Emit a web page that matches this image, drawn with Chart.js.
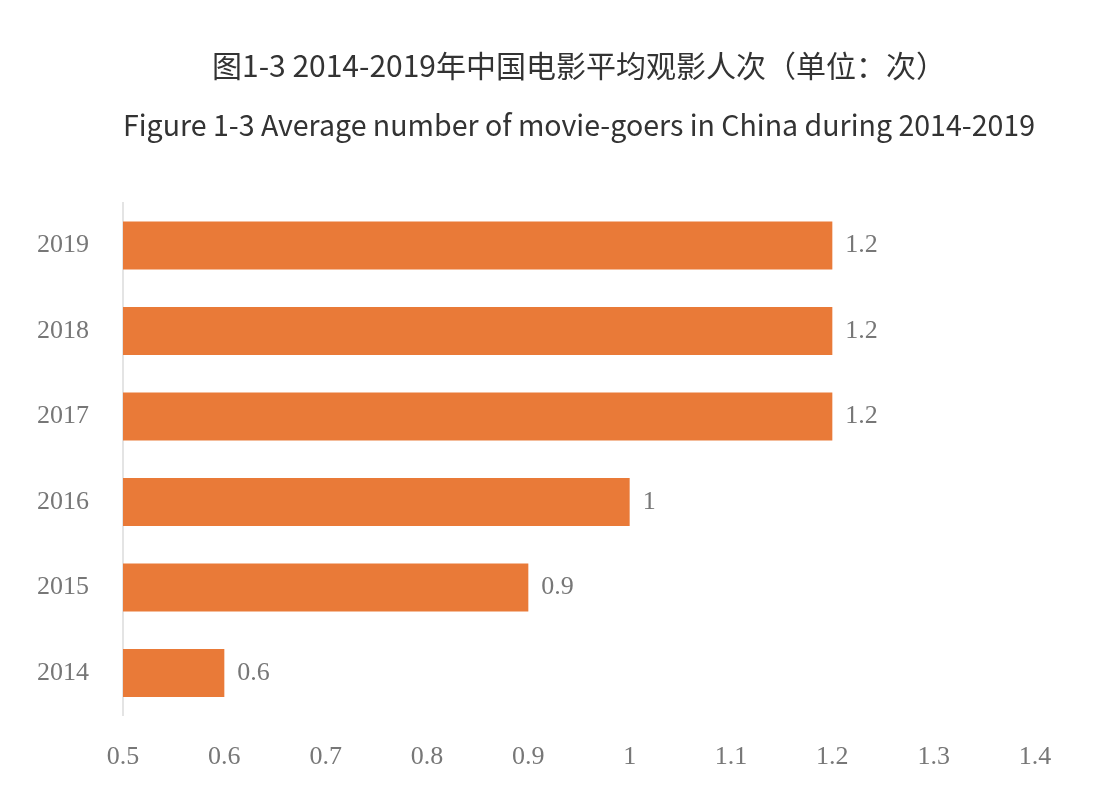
<!DOCTYPE html>
<html>
<head>
<meta charset="utf-8">
<script src="https://cdn.jsdelivr.net/npm/chart.js@4/dist/chart.umd.min.js"></script>
<style>
  html, body { margin: 0; padding: 0; background: #fff; }
  #wrap { width: 1110px; height: 791px; }
</style>
</head>
<body>
<div id="wrap"><canvas id="chart"></canvas></div>
<script>
const years = ['2014', '2015', '2016', '2017', '2018', '2019'];
const avgViews = [0.6, 0.9, 1, 1.2, 1.2, 1.2];
const titleCn = '图1-3 2014-2019年中国电影平均观影人次（单位：次）';
const titleEn = 'Figure 1-3 Average number of movie-goers in China during 2014-2019';

// value labels at the end of each bar
const valueLabels = {
    id: 'valueLabels',
    afterDatasetsDraw(chart) {
        const ctx = chart.ctx;
        const meta = chart.getDatasetMeta(0);
        ctx.save();
        ctx.font = '26px "Liberation Serif", serif';
        ctx.fillStyle = '#777';
        ctx.textAlign = 'left';
        ctx.textBaseline = 'middle';
        meta.data.forEach(function (bar, i) {
            ctx.fillText(String(avgViews[i]), bar.x + 13, bar.y);
        });
        ctx.restore();
    }
};

new Chart(document.getElementById('chart'), {
    type: 'bar',
    data: {
        labels: years,
        datasets: [{
            data: avgViews,
            backgroundColor: '#e97a38',
            borderWidth: 0,
            categoryPercentage: 1,
            barPercentage: 0.56,
        }]
    },
    options: {
        indexAxis: 'y',
        responsive: true,
        maintainAspectRatio: false,
        animation: false,
        layout: {
            padding: { left: 11, right: 75, top: 0, bottom: 0 },
        },
        plugins: {
            legend: { display: false },
            tooltip: { enabled: false },
            title: {
                display: true,
                text: titleCn,
                fullSize: false,
                color: '#333',
                font: { family: '"Noto Sans CJK SC", sans-serif', size: 30, weight: 'normal' },
                padding: { top: 48, bottom: 24 },
            },
            subtitle: {
                display: true,
                text: titleEn,
                fullSize: false,
                color: '#333',
                font: { family: '"Noto Sans CJK SC", sans-serif', size: 29, weight: 'normal' },
                padding: { top: 0, bottom: 60 },
            },
        },
        scales: {
            x: {
                min: 0.5,
                max: 1.4,
                ticks: {
                    stepSize: 0.1,
                    padding: 18,
                    color: '#777',
                    font: { family: '"Liberation Serif", serif', size: 26 },
                    callback: function (v) { return String(Math.round(v * 10) / 10); },
                },
                grid: { display: false },
                border: { display: false },
            },
            y: {
                reverse: true,
                ticks: {
                    padding: 26,
                    color: '#777',
                    font: { family: '"Liberation Serif", serif', size: 26 },
                },
                grid: { display: false },
                border: { display: true, color: '#e4e4e4', width: 2 },
            },
        },
    },
    plugins: [valueLabels],
});
</script>
</body>
</html>
